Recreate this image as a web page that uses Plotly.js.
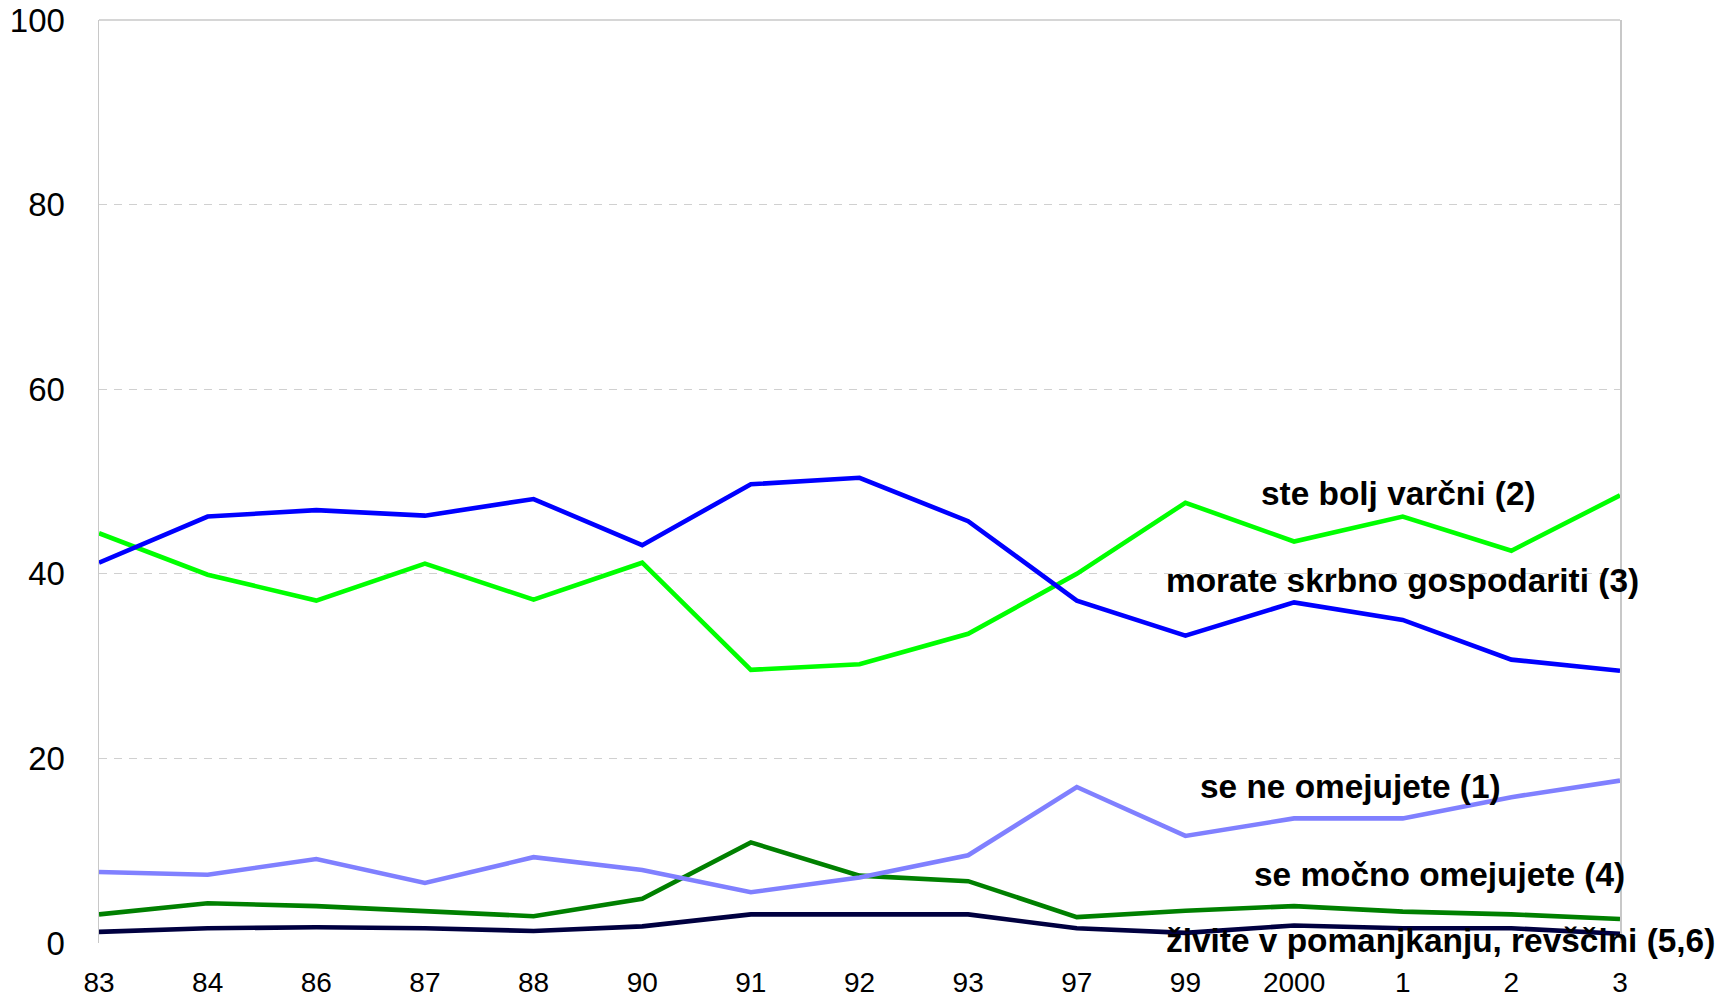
<!DOCTYPE html>
<html>
<head>
<meta charset="utf-8">
<script src="https://cdn.plot.ly/plotly-3.0.1.min.js"></script>
<style>
  html, body { margin: 0; padding: 0; background: #ffffff; }
  #chart { width: 1734px; height: 999px; }
</style>
</head>
<body>
<div id="chart"></div>
<script>
// Categories (survey years)
const years = ['83', '84', '86', '87', '88', '90', '91', '92', '93', '97', '99', '2000', '1', '2', '3'];

// Series values (%)
const seNeOmejujete = [7.7, 7.4, 9.1, 6.5, 9.3, 7.9, 5.5, 7.1, 9.5, 16.9, 11.6, 13.5, 13.5, 15.8, 17.6];
const steBoljVarcni = [44.4, 39.9, 37.1, 41.1, 37.2, 41.2, 29.6, 30.2, 33.5, 40.0, 47.7, 43.5, 46.2, 42.5, 48.5];
const morateSkrbno = [41.2, 46.2, 46.9, 46.3, 48.1, 43.1, 49.7, 50.4, 45.7, 37.1, 33.3, 36.9, 35.0, 30.7, 29.5];
const seMocnoOmejujete = [3.1, 4.3, 4.0, 3.4, 2.9, 4.8, 10.9, 7.3, 6.7, 2.8, 3.5, 4.0, 3.4, 3.1, 2.6];
const ziviteVPomanjkanju = [1.2, 1.6, 1.7, 1.6, 1.3, 1.8, 3.1, 3.1, 3.1, 1.6, 1.1, 1.9, 1.6, 1.6, 1.0];

// Series labels
const seriesNames = [
  'se ne omejujete (1)',
  'ste bolj varčni (2)',
  'morate skrbno gospodariti (3)',
  'se močno omejujete (4)',
  'živite v pomanjkanju, revščini (5,6)'
];
const seriesValues = [seNeOmejujete, steBoljVarcni, morateSkrbno, seMocnoOmejujete, ziviteVPomanjkanju];
const seriesColors = ['#8080ff', '#00ff00', '#0000ff', '#008000', '#000040'];

// Label positions (category index, value)
const labelX = [11.52, 11.96, 12.0, 12.34, 12.35];
const labelY = [17.0, 48.7, 39.3, 7.4, 0.3];

const traces = seriesValues.map((vals, i) => ({
  type: 'scatter',
  mode: 'lines',
  x: years,
  y: vals,
  name: seriesNames[i],
  line: { color: seriesColors[i], width: 4.6 },
  hoverinfo: 'x+y+name'
}));
const order = [4, 3, 0, 1, 2];
const data = order.map(i => traces[i]);

const annotations = seriesNames.map((t, i) => ({
  x: labelX[i], y: labelY[i], xref: 'x', yref: 'y',
  text: t, showarrow: false, xanchor: 'center', yanchor: 'middle',
  font: { family: 'Liberation Sans, Arial, sans-serif', size: 33.4, color: '#000000', weight: 'bold' }
}));

const layout = {
  width: 1734, height: 999,
  margin: { l: 99, r: 114, t: 20, b: 56 },
  paper_bgcolor: '#ffffff', plot_bgcolor: '#ffffff',
  showlegend: false,
  font: { family: 'Liberation Sans, Arial, sans-serif', color: '#000000' },
  xaxis: {
    type: 'category',
    range: [0, 14],
    showgrid: false, zeroline: false, showline: false,
    ticks: '', ticklabelstandoff: 20,
    tickfont: { size: 28, color: '#000000' },
    fixedrange: true
  },
  yaxis: {
    range: [0, 100],
    tickvals: [0, 20, 40, 60, 80, 100],
    showgrid: true, gridcolor: '#d0d0d0', gridwidth: 1, griddash: '8px,7px',
    zeroline: false,
    showline: true, mirror: true, linecolor: '#c8c8c8', linewidth: 1.5,
    ticks: '', ticklabelstandoff: 26,
    tickfont: { size: 33, color: '#000000' },
    fixedrange: true
  },
  shapes: [
    { type: 'line', xref: 'paper', yref: 'paper', x0: 0, x1: 1, y0: 1, y1: 1,
      line: { color: '#c8c8c8', width: 1.5 } }
  ],
  annotations: annotations
};

Plotly.newPlot('chart', data, layout, { displayModeBar: false, staticPlot: true });
</script>
</body>
</html>
